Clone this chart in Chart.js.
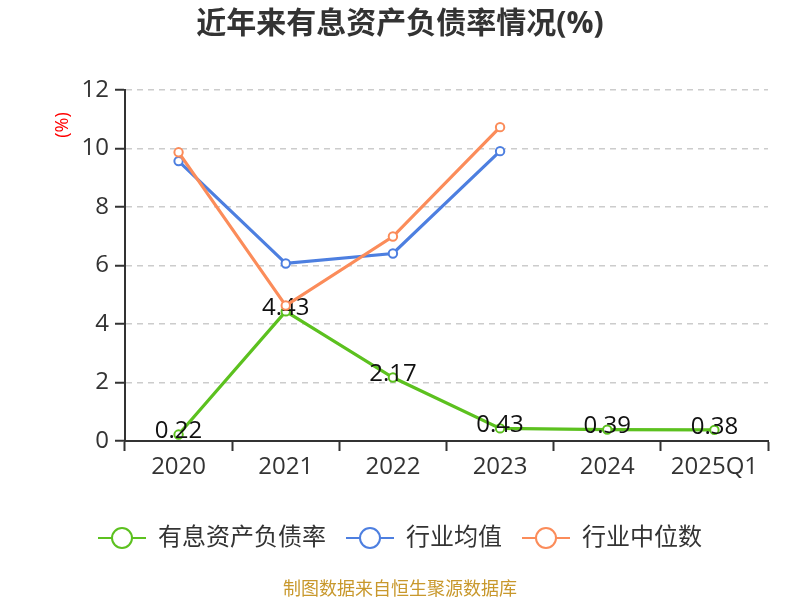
<!DOCTYPE html>
<html>
<head>
<meta charset="utf-8">
<script src="https://cdn.jsdelivr.net/npm/chart.js@4.4.1/dist/chart.umd.min.js"></script>
<style>
  html, body { margin: 0; padding: 0; background: #fff; }
  #wrap { width: 800px; height: 600px; }
</style>
</head>
<body>
<div id="wrap"><canvas id="debtChart" width="800" height="600"></canvas></div>
<script>
// chart data
const years = ['2020', '2021', '2022', '2023', '2024', '2025Q1'];
const debtRatio = [0.22, 4.43, 2.17, 0.43, 0.39, 0.38];
const industryAvg = [9.57, 6.07, 6.41, 9.91, null, null];
const industryMedian = [9.87, 4.63, 6.99, 10.73, null, null];
const yTicks = [0, 2, 4, 6, 8, 10, 12];

const FONT = "'Open Sans', 'Noto Sans CJK SC', sans-serif";
const GREEN = '#5cc11f';
const BLUE = '#4d7fe0';
const ORANGE = '#fb8c5a';

// legend marker: short line with a hollow circle
function legendIcon(color) {
    const c = document.createElement('canvas');
    c.width = 48;
    c.height = 24;
    const g = c.getContext('2d');
    g.strokeStyle = color;
    g.lineWidth = 2;
    g.beginPath();
    g.moveTo(0, 12);
    g.lineTo(48, 12);
    g.stroke();
    g.beginPath();
    g.arc(24, 12, 10, 0, Math.PI * 2);
    g.fillStyle = '#fff';
    g.fill();
    g.stroke();
    return c;
}

// value labels for the first series + extra texts
const extras = {
    id: 'extras',
    afterDatasetDraw(chart, args) {
        if (args.index !== 0) return;
        const ctx = chart.ctx;
        const meta = chart.getDatasetMeta(0);
        ctx.save();
        ctx.font = '24px ' + FONT;
        ctx.fillStyle = '#111';
        ctx.textAlign = 'center';
        ctx.textBaseline = 'middle';
        meta.data.forEach((pt, i) => {
            ctx.fillText(debtRatio[i].toFixed(2), pt.x, pt.y - 3);
        });
        ctx.restore();
    },
    afterDraw(chart) {
        const ctx = chart.ctx;
        ctx.save();
        // unit label
        ctx.translate(63, 125);
        ctx.rotate(-Math.PI / 2);
        ctx.font = '18px ' + FONT;
        ctx.fillStyle = '#ff0000';
        ctx.textAlign = 'center';
        ctx.textBaseline = 'middle';
        ctx.fillText('(%)', 0, 0);
        ctx.restore();
        // source note
        ctx.save();
        ctx.font = '18px ' + FONT;
        ctx.fillStyle = '#c8982c';
        ctx.textAlign = 'center';
        ctx.textBaseline = 'middle';
        ctx.fillText('制图数据来自恒生聚源数据库', 400, 590);
        ctx.restore();
    }
};

const icons = [legendIcon(GREEN), legendIcon(BLUE), legendIcon(ORANGE)];

function series(label, data, color, order) {
    return {
        label: label,
        data: data,
        order: order,
        borderColor: color,
        backgroundColor: '#fff',
        borderWidth: 3.2,
        pointRadius: 4.2,
        pointBorderWidth: 2,
        pointBackgroundColor: '#fff',
        pointBorderColor: color
    };
}

new Chart(document.getElementById('debtChart'), {
    type: 'line',
    data: {
        labels: years,
        datasets: [
            series('有息资产负债率', debtRatio, GREEN, 2),
            series('行业均值', industryAvg, BLUE, 1),
            series('行业中位数', industryMedian, ORANGE, 0)
        ]
    },
    options: {
        responsive: false,
        animation: false,
        layout: { padding: { left: 32, right: 32, top: 0, bottom: 40 } },
        plugins: {
            title: {
                display: true,
                text: '近年来有息资产负债率情况(%)',
                color: '#333',
                font: { family: FONT, size: 30, weight: 'bold' },
                padding: { top: 6, bottom: 48 }
            },
            legend: {
                position: 'bottom',
                labels: {
                    color: '#333',
                    font: { family: FONT, size: 24 },
                    usePointStyle: true,
                    pointStyleWidth: 48,
                    boxHeight: 24,
                    padding: 20,
                    generateLabels(chart) {
                        return chart.data.datasets.map((ds, i) => ({
                            text: ds.label,
                            pointStyle: icons[i],
                            fontColor: '#333',
                            lineWidth: 0,
                            strokeStyle: 'transparent',
                            fillStyle: 'transparent',
                            datasetIndex: i
                        }));
                    }
                }
            },
            tooltip: { enabled: false }
        },
        scales: {
            x: {
                offset: true,
                afterFit(s) { s.height = 65; },
                grid: {
                    offset: true,
                    drawOnChartArea: false,
                    tickLength: 10,
                    tickColor: '#333',
                    tickWidth: 2
                },
                border: { color: '#333', width: 2 },
                ticks: { color: '#333', padding: 2, font: { family: FONT, size: 24 } }
            },
            y: {
                min: 0,
                max: 12,
                afterFit(s) { s.width = 93; },
                afterBuildTicks(s) { s.ticks = yTicks.map(v => ({ value: v })); },
                grid: {
                    color: '#cccccc',
                    lineWidth: 1.5,
                    tickLength: 10,
                    tickColor: '#333',
                    tickWidth: 2
                },
                border: { color: '#333', width: 2, dash: [6, 5] },
                ticks: { color: '#333', padding: 6, font: { family: FONT, size: 24 } }
            }
        }
    },
    plugins: [extras]
});
</script>
</body>
</html>
